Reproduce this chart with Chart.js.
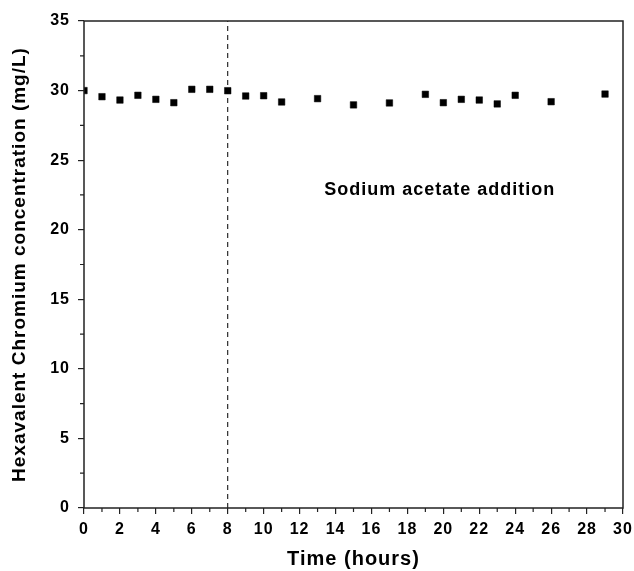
<!DOCTYPE html>
<html><head><meta charset="utf-8">
<script src="https://cdn.jsdelivr.net/npm/chart.js@4/dist/chart.umd.min.js"></script>
<style>html,body{margin:0;padding:0;background:#fff}#wrap{width:634px;height:571px}</style>
</head><body><div id="wrap"><canvas id="c" width="634" height="571"></canvas></div>
<script>
const hours = [0,1,2,3,4,5,6,7,8,9,10,11,13,15,17,19,20,21,22,23,24,26,29];
const cr6 = [30.0,29.56,29.32,29.66,29.37,29.13,30.09,30.09,29.99,29.61,29.63,29.18,29.42,28.97,29.11,29.73,29.13,29.37,29.32,29.04,29.66,29.2,29.75];
const additionTime = 8;
const additionLabel = "Sodium acetate addition";
const xTitle = "Time (hours)";
const yTitle = "Hexavalent Chromium concentration (mg/L)";
const labelPos = {x: 19.8, y: 22.85};

const FONT = "'Liberation Sans', Arial, sans-serif";

const spacingPlugin = {
  id: 'spacing',
  beforeLayout(chart) { chart.ctx.letterSpacing = '1px'; },
  beforeDraw(chart) { chart.ctx.letterSpacing = '1px'; }
};

const framePlugin = {
  id: 'frame',
  afterDatasetsDraw(chart) {
    const {ctx, chartArea: a, scales: {x, y}} = chart;
    ctx.save();
    ctx.strokeStyle = '#222';
    ctx.lineWidth = 1.5;
    ctx.strokeRect(a.left, a.top, a.right - a.left, a.bottom - a.top);
    ctx.lineWidth = 1.2;
    ctx.beginPath();
    for (let v = 1; v < 30; v += 2) {
      const px = x.getPixelForValue(v);
      ctx.moveTo(px, a.bottom); ctx.lineTo(px, a.bottom + 4);
    }
    for (let v = 2.5; v < 35; v += 5) {
      const py = y.getPixelForValue(v);
      ctx.moveTo(a.left, py); ctx.lineTo(a.left - 4, py);
    }
    ctx.stroke();
    ctx.fillStyle = '#000';
    ctx.letterSpacing = '1px';
    ctx.font = 'bold 18px ' + FONT;
    ctx.textAlign = 'center';
    ctx.textBaseline = 'middle';
    ctx.fillText(additionLabel, x.getPixelForValue(labelPos.x), y.getPixelForValue(labelPos.y));
    ctx.restore();
  }
};

new Chart(document.getElementById('c'), {
  type: 'scatter',
  data: {
    datasets: [
      {
        data: hours.map((h, i) => ({x: h, y: cr6[i]})),
        pointStyle: 'rect',
        pointRadius: 4.6,
        backgroundColor: '#000',
        borderColor: '#000',
        borderWidth: 0.5
      },
      {
        type: 'line',
        data: [{x: additionTime, y: 0}, {x: additionTime, y: 35}],
        borderColor: '#000',
        borderWidth: 1,
        borderDash: [5, 4],
        pointRadius: 0,
        fill: false
      }
    ]
  },
  options: {
    responsive: false,
    animation: false,
    layout: {padding: {top: 21, right: 11, left: 0, bottom: 0}},
    plugins: {legend: {display: false}, tooltip: {enabled: false}},
    scales: {
      x: {
        type: 'linear', min: 0, max: 30,
        afterFit(s) { s.height = 63; s.paddingLeft = 0; s.paddingRight = 0; },
        ticks: {stepSize: 2, color: '#000', padding: 6, maxRotation: 0, font: {family: FONT, size: 16, weight: 'bold'}},
        grid: {drawOnChartArea: false, drawTicks: true, tickLength: 6, color: '#222', lineWidth: 1.2},
        border: {display: false},
        title: {display: true, text: xTitle, color: '#000', font: {family: FONT, size: 20, weight: 'bold'}, padding: {top: 4, bottom: 0}}
      },
      y: {
        min: 0, max: 35,
        afterFit(s) { s.width = 84; s.paddingTop = 0; s.paddingBottom = 0; },
        ticks: {stepSize: 5, color: '#000', padding: 8, font: {family: FONT, size: 16, weight: 'bold'}},
        grid: {drawOnChartArea: false, drawTicks: true, tickLength: 6, color: '#222', lineWidth: 1.2},
        border: {display: false},
        title: {display: true, text: yTitle, color: '#000', font: {family: FONT, size: 19, weight: 'bold'}, padding: {top: 8, bottom: 4}}
      }
    }
  },
  plugins: [spacingPlugin, framePlugin]
});
</script></body></html>
